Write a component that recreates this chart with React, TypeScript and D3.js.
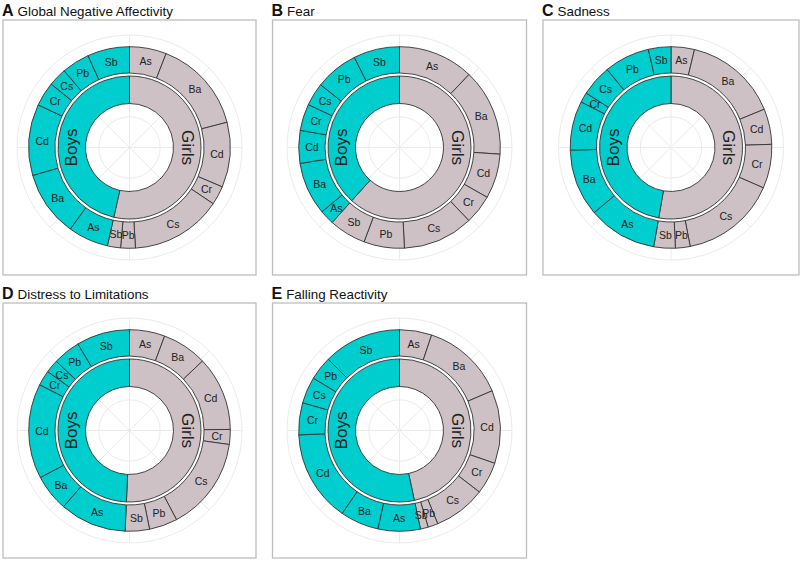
import React from "react";
import * as d3 from "d3";

// ---- data (angular shares, degrees of 360) ----
const subgroups = ["As", "Ba", "Cd", "Cr", "Cs", "Pb", "Sb"];
const groups = ["Girls", "Boys"];
const panelLetters = ["A", "B", "C", "D", "E"];
const panelTitles = [
  "Global Negative Affectivity",
  "Fear",
  "Sadness",
  "Distress to Limitations",
  "Falling Reactivity",
];

const girlsGNA = [21.3, 54.2, 37.5, 10.9, 52.7, 8.5, 7.6];
const boysGNA = [23.3, 37.9, 41.1, 14.0, 10.6, 16.1, 24.3];
const girlsFear = [43.6, 50.2, 25.8, 16.9, 40.7, 23.4, 21.3];
const boysFear = [8.5, 30.5, 18.9, 15.4, 13.3, 24.9, 26.6];
const girlsSad = [13.5, 54.2, 20.5, 25.4, 55.4, 8.5, 12.4];
const boysSad = [39.8, 38.8, 28.4, 5.8, 18.0, 26.3, 13.0];
const girlsDist = [20.4, 26.0, 43.0, 8.6, 54.2, 16.3, 14.0];
const boysDist = [38.4, 21.3, 54.8, 8.8, 7.6, 15.8, 30.8];
const girlsFall = [18.6, 48.2, 42.2, 18.6, 30.1, 5.8, 4.5];
const boysFall = [24.4, 22.3, 52.8, 18.5, 15.3, 13.7, 45.0];

const girlsValues = [girlsGNA, girlsFear, girlsSad, girlsDist, girlsFall];
const boysValues = [boysGNA, boysFear, boysSad, boysDist, boysFall];

// ---- styling ----
const COL = { Girls: "#CDC1C5", Boys: "#00CDCD" };
const FONT = "'Liberation Sans', Arial, Helvetica, sans-serif";

const boxes = [
  { x: 3, y: 20, w: 253, h: 255 },
  { x: 272.5, y: 20, w: 254, h: 255 },
  { x: 543, y: 20, w: 256, h: 255 },
  { x: 3, y: 303, w: 253, h: 255 },
  { x: 272.5, y: 303, w: 254, h: 255 },
];

const R_HOLE = 44;
const R_IN_OUT = 71.5;
const R_OUT_IN = 74.5;
const R_OUT = 100.8;
const R_GRID = 112.5;
const R_GRID_IN = 30.7;

function Panel({ idx }: { idx: number }) {
  const b = boxes[idx];
  const cx = b.x + b.w / 2;
  const cy = b.y + b.h / 2;
  const girls = girlsValues[idx];
  const boys = boysValues[idx];

  const outerData = [
    ...girls.map((v, i) => ({ g: "Girls", s: subgroups[i], v })),
    ...boys.map((v, i) => ({ g: "Boys", s: subgroups[i], v })),
  ];
  const innerData = [
    { g: "Girls", v: d3.sum(girls) },
    { g: "Boys", v: d3.sum(boys) },
  ];

  const pie = d3
    .pie<any>()
    .sort(null)
    .value((d: any) => d.v)
    .startAngle(0)
    .endAngle(2 * Math.PI);

  const outerArcs = pie(outerData);
  const innerArcs = pie(innerData);

  const outerArc = d3.arc<any>().innerRadius(R_OUT_IN).outerRadius(R_OUT);
  const innerArc = d3.arc<any>().innerRadius(R_HOLE).outerRadius(R_IN_OUT);
  const labelArc = d3
    .arc<any>()
    .innerRadius((R_OUT_IN + R_OUT) / 2)
    .outerRadius((R_OUT_IN + R_OUT) / 2);

  const spokes = d3.range(8).map((k) => (k * Math.PI) / 4);
  const rMid = (R_HOLE + R_IN_OUT) / 2;

  return (
    <g>
      <text x={b.x - 1} y={b.y - 4.5} fontFamily={FONT} fill="#111">
        <tspan fontWeight="bold" fontSize={16}>
          {panelLetters[idx]}
        </tspan>
        <tspan dx={4} fontSize={13.4}>
          {panelTitles[idx]}
        </tspan>
      </text>
      <rect
        x={b.x}
        y={b.y}
        width={b.w}
        height={b.h}
        fill="#fff"
        stroke="#BDBDBD"
        strokeWidth={1.3}
      />
      <g transform={`translate(${cx},${cy})`}>
        {/* grid */}
        <circle r={R_GRID} fill="none" stroke="#EBEBEB" strokeWidth={1} />
        <circle r={R_GRID_IN} fill="none" stroke="#EBEBEB" strokeWidth={1} />
        {spokes.map((a, i) => (
          <line
            key={i}
            x1={0}
            y1={0}
            x2={R_GRID * Math.sin(a)}
            y2={-R_GRID * Math.cos(a)}
            stroke="#EBEBEB"
            strokeWidth={1}
          />
        ))}
        {/* inner ring */}
        {innerArcs.map((a: any, i: number) => (
          <path
            key={"in" + i}
            d={innerArc(a) as string}
            fill={(COL as any)[a.data.g]}
            stroke="#333"
            strokeWidth={0.9}
          />
        ))}
        {/* outer ring */}
        {outerArcs.map((a: any, i: number) => (
          <path
            key={"out" + i}
            d={outerArc(a) as string}
            fill={(COL as any)[a.data.g]}
            stroke="#333"
            strokeWidth={0.9}
          />
        ))}
        {outerArcs.map((a: any, i: number) => {
          const [x, y] = labelArc.centroid(a);
          return (
            <text
              key={"lb" + i}
              x={x}
              y={y}
              textAnchor="middle"
              dominantBaseline="central"
              fontFamily={FONT}
              fontSize={10.5}
              fill="#222"
            >
              {a.data.s}
            </text>
          );
        })}
        <text
          transform={`translate(${-rMid},0) rotate(-90)`}
          textAnchor="middle"
          dominantBaseline="central"
          fontFamily={FONT}
          fontSize={17}
          fill="#222"
        >
          {groups[1]}
        </text>
        <text
          transform={`translate(${rMid},0) rotate(90)`}
          textAnchor="middle"
          dominantBaseline="central"
          fontFamily={FONT}
          fontSize={17}
          fill="#222"
        >
          {groups[0]}
        </text>
      </g>
    </g>
  );
}

export default function App() {
  return (
    <svg
      width={800}
      height={561}
      style={{ position: "absolute", left: 0, top: 0, background: "#fff" }}
    >
      <rect width={800} height={561} fill="#fff" />
      {panelLetters.map((_, i) => (
        <Panel key={i} idx={i} />
      ))}
    </svg>
  );
}
